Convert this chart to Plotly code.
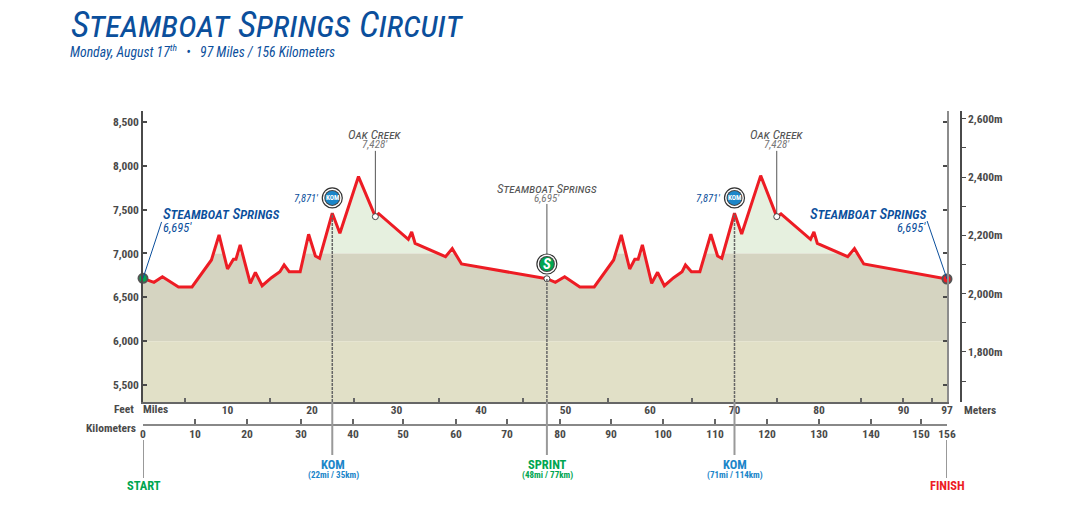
import plotly.graph_objects as go

W, H = 1079, 508
FONT = "Roboto Condensed, Roboto, sans-serif"
BLUE = "#0b4f9c"
KOM_BLUE = "#1b86c9"
GREEN = "#00a651"
RED = "#ed1c24"
DARK = "#4a4a4a"

# elevation profile, x in miles on the drawn scale (the last stretch is squeezed in the original)
profile_miles = [0, 1.3, 2.3, 4.2, 5.8, 8.1, 9.0, 10.0, 10.7, 11.0, 11.5, 12.7, 13.3, 14.1, 15.2, 16.2, 16.7, 17.3,
                 18.6, 19.6, 20.4, 20.9, 22.4, 23.3, 25.5, 27.5, 27.9, 31.4, 31.8, 32.2, 35.8, 36.6, 37.7, 47.8,
                 48.8, 49.9, 51.7, 53.4, 55.7, 56.6, 57.6, 58.2, 58.6, 59.1, 60.2, 60.9, 61.7, 62.8, 63.8, 64.2,
                 64.9, 65.9, 67.2, 68.0, 68.5, 70.0, 70.85, 73.1, 75.0, 75.5, 79.0, 79.4, 79.8, 83.4, 84.2, 85.3,
                 95.15]
profile_feet = [6717, 6671, 6735, 6618, 6618, 6926, 7211, 6823, 6934, 6934, 7097, 6660, 6785, 6632, 6724, 6792, 6869,
                6792, 6792, 7219, 6971, 6945, 7459, 7231, 7877, 7420, 7454, 7162, 7245, 7116, 6963, 7055, 6880, 6712,
                6671, 6735, 6618, 6618, 6926, 7211, 6823, 6934, 6934, 7097, 6660, 6785, 6632, 6724, 6792, 6869,
                6792, 6792, 7219, 6971, 6945, 7459, 7223, 7888, 7420, 7451, 7162, 7245, 7116, 6963, 7055, 6880,
                6709]

feet_ticks = [5500, 6000, 6500, 7000, 7500, 8000, 8500]
meter_ticks = [1700, 1800, 1900, 2000, 2100, 2200, 2300, 2400, 2500, 2600]
meter_labels = ["", "1,800m", "", "2,000m", "", "2,200m", "", "2,400m", "", "2,600m"]

mile_tick_pos = [0, 10, 20, 30, 40, 50, 60, 70, 80, 90, 95.15]
mile_labels = ["", "10", "20", "30", "40", "50", "60", "70", "80", "90", "97"]
mile_minor = [5, 15, 25, 35, 45, 55, 65, 75, 85, 89.95, 93.4]

km_tick_pos = [0, 10, 20, 30.4, 40.4, 50, 60.2, 70, 80.2, 90, 100, 110, 120, 130, 140, 149.6, 154.6]
km_labels = ["0", "10", "20", "30", "40", "50", "60", "70", "80", "90", "100", "110", "120", "130", "140", "150", "156"]

FEET_RANGE = [5306, 8625]
METER_RANGE = [1628, 2627]
MILE_RANGE = [0, 95.15]
KM_RANGE = [0, 154.6]
TOP = FEET_RANGE[1]

KOM1, SPRINT, KOM2, OAK1, OAK2 = 22.4, 47.8, 70.0, 27.5, 75.0


def px(x):
    return x / W


def py(y):
    return 1 - y / H


fig = go.Figure()

# white mask above the profile, so the colour bands only show below it
fig.add_trace(go.Scatter(x=profile_miles, y=[TOP] * len(profile_miles), mode="lines", line=dict(width=0)))
fig.add_trace(go.Scatter(x=profile_miles, y=profile_feet, mode="lines", line=dict(width=0),
                         fill="tonexty", fillcolor="white"))
fig.add_trace(go.Scatter(x=profile_miles, y=profile_feet, mode="lines",
                         line=dict(color=RED, width=3, shape="linear")))

# start / finish / climb markers
fig.add_trace(go.Scatter(x=[profile_miles[0]], y=[profile_feet[0]], mode="markers", cliponaxis=False,
                         marker=dict(size=9, color=GREEN, line=dict(color="#555555", width=2))))
fig.add_trace(go.Scatter(x=[profile_miles[-1]], y=[profile_feet[-1]], mode="markers", cliponaxis=False,
                         marker=dict(size=9, color=RED, line=dict(color="#555555", width=2))))
fig.add_trace(go.Scatter(x=[OAK1, OAK2, SPRINT], y=[7420, 7420, 6712], mode="markers",
                         marker=dict(size=6, color="white", line=dict(color="#444444", width=1))))

# badges
for bx, by, col in [(KOM1, 7634, KOM_BLUE), (KOM2, 7634, KOM_BLUE), (SPRINT, 6880, GREEN)]:
    fig.add_trace(go.Scatter(x=[bx], y=[by], mode="markers",
                             marker=dict(size=20, color="white", line=dict(color="#333333", width=1.2))))
    fig.add_trace(go.Scatter(x=[bx], y=[by], mode="markers", marker=dict(size=16, color="#444444")))
    fig.add_trace(go.Scatter(x=[bx], y=[by], mode="markers", marker=dict(size=14, color=col)))

shapes = [
    dict(type="rect", xref="x domain", x0=0, x1=1, yref="y", y0=7000, y1=TOP, fillcolor="#e6f0df", line_width=0, layer="below"),
    dict(type="rect", xref="x domain", x0=0, x1=1, yref="y", y0=6000, y1=7000, fillcolor="#d5d4c1", line_width=0, layer="below"),
    dict(type="rect", xref="x domain", x0=0, x1=1, yref="y", y0=FEET_RANGE[0], y1=6000, fillcolor="#e1e0c7", line_width=0, layer="below"),
]

# dashed drops to the axis and solid stems to the labels below
for mx, feet in [(KOM1, 7459), (SPRINT, 6712), (KOM2, 7459)]:
    shapes.append(dict(type="line", xref="x", x0=mx, x1=mx, yref="y", y0=FEET_RANGE[0], y1=feet,
                       line=dict(color="#666666", width=1.5, dash="3px,1px")))
    shapes.append(dict(type="line", xref="x", x0=mx, x1=mx, yref="paper", y0=py(402), y1=py(455),
                       line=dict(color="#999999", width=2)))
for mx in MILE_RANGE:
    shapes.append(dict(type="line", xref="x", x0=mx, x1=mx, yref="paper", y0=py(440), y1=py(478),
                       line=dict(color="#999999", width=2)))

# leader lines
for mx, top in [(OAK1, 8170), (OAK2, 8170), (SPRINT, 7565)]:
    bottom = 6990 if mx == SPRINT else 7450
    shapes.append(dict(type="line", x0=mx, x1=mx, y0=bottom, y1=top, line=dict(color="#555555", width=1)))
shapes.append(dict(type="line", x0=0, x1=2.2, y0=6717, y1=7360, line=dict(color=BLUE, width=1)))
shapes.append(dict(type="line", x0=92.8, x1=95.15, y0=7370, y1=6709, line=dict(color=BLUE, width=1)))

annotations = []


def note(text, x, y, size, color, anchor="center", italic=False, small_caps=False, weight="normal"):
    annotations.append(dict(
        text=text, xref="paper", yref="paper", x=px(x), y=py(y), xanchor=anchor, yanchor="middle",
        showarrow=False, borderpad=0, borderwidth=0,
        font=dict(family=FONT, size=size, color=color, style="italic" if italic else "normal",
                  variant="small-caps" if small_caps else "normal", weight=weight),
    ))


note("Steamboat Springs Circuit", 71, 24, 36.5, BLUE, "left", italic=True, small_caps=True)
note("Monday, August 17<sup>th</sup>   •   97 Miles / 156 Kilometers", 70, 51, 13.7, BLUE, "left", italic=True)

note("Steamboat Springs", 163, 214, 15, BLUE, "left", italic=True, small_caps=True, weight=500)
note("6,695'", 163, 227, 12.5, BLUE, "left", italic=True)
note("Steamboat Springs", 927, 214, 15, BLUE, "right", italic=True, small_caps=True, weight=500)
note("6,695'", 926, 227, 12.5, BLUE, "right", italic=True)

for cx in (375, 777):
    note("Oak Creek", cx, 134, 13, "#555555", italic=True, small_caps=True)
    note("7,428'", cx, 145, 11, "#777777", italic=True)
note("Steamboat Springs", 547, 188, 13, "#555555", italic=True, small_caps=True)
note("6,695'", 547, 199, 11, "#777777", italic=True)

note("7,871'", 319, 198, 10.5, BLUE, "right", italic=True)
note("7,871'", 721, 198, 10.5, BLUE, "right", italic=True)
note("KOM", 332.5, 198, 7, "white", weight="bold")
note("KOM", 734.5, 198, 7, "white", weight="bold")
note("S", 547, 264, 15, "white", italic=True, weight="bold")

note("Feet", 134, 409, 11.5, DARK, "right", weight="bold")
note("Miles", 143, 409, 11.5, DARK, "left", weight="bold")
note("Meters", 964, 410, 11.5, DARK, "left", weight="bold")
note("Kilometers", 136, 428, 11.5, DARK, "right", weight="bold")

note("START", 144, 485, 12.5, GREEN, weight="bold")
note("FINISH", 947, 485, 12.5, RED, weight="bold")
note("KOM", 333, 464, 12.5, KOM_BLUE, weight="bold")
note("(22mi / 35km)", 333, 475, 9, KOM_BLUE, weight="bold")
note("SPRINT", 547, 464, 12.5, GREEN, weight="bold")
note("(48mi / 77km)", 547, 475, 9, GREEN, weight="bold")
note("KOM", 735, 464, 12.5, KOM_BLUE, weight="bold")
note("(71mi / 114km)", 735, 475, 9, KOM_BLUE, weight="bold")

tick_font = dict(family=FONT, size=11.5, color=DARK, weight="bold")
fig.update_layout(
    width=W, height=H,
    margin=dict(l=0, r=0, t=0, b=0, autoexpand=False),
    paper_bgcolor="white",
    plot_bgcolor="white",
    showlegend=False,
    hovermode=False,
    shapes=shapes,
    annotations=annotations,
    xaxis=dict(domain=[px(143), px(947)], range=MILE_RANGE, anchor="y", showgrid=False, zeroline=False,
               tickmode="array", tickvals=mile_tick_pos, ticktext=mile_labels, ticks="", tickfont=tick_font,
               ticklabelstandoff=-4, showline=True, linecolor="#666666", linewidth=2,
               minor=dict(ticks="inside", tickvals=mile_minor, ticklen=4, tickwidth=1.5, tickcolor="#666666", showgrid=False)),
    xaxis2=dict(domain=[px(143), px(947)], range=KM_RANGE, overlaying="x", anchor="free", position=py(425), side="bottom",
                showgrid=False, zeroline=False, tickmode="array", tickvals=km_tick_pos, ticktext=km_labels,
                ticks="inside", ticklen=5, tickwidth=1.5, tickcolor="#666666", tickfont=tick_font, ticklabelstandoff=-2,
                showline=True, linecolor="#888888", linewidth=2),
    yaxis=dict(domain=[py(402), py(111)], range=FEET_RANGE, anchor="x", showgrid=False, zeroline=False,
               tickmode="array", tickvals=feet_ticks, tickformat=",", ticksuffix="'", ticks="inside", ticklen=4,
               tickwidth=1.5, tickcolor=DARK, tickfont=tick_font, showline=True, linecolor=DARK, linewidth=1.5),
    yaxis2=dict(domain=[py(402), py(111)], range=FEET_RANGE, overlaying="y", anchor="x", side="right", showgrid=False,
                zeroline=False, tickmode="array", tickvals=feet_ticks, ticktext=[""] * len(feet_ticks), ticks="inside",
                ticklen=4, tickwidth=1.5, tickcolor=DARK, showline=True, linecolor="#8c8c8c", linewidth=2),
    yaxis3=dict(domain=[py(402), py(111)], range=METER_RANGE, overlaying="y", anchor="free", position=px(961),
                side="right", showgrid=False, zeroline=False, tickmode="array", tickvals=meter_ticks,
                ticktext=meter_labels, ticks="outside", ticklen=4, tickwidth=1, tickcolor=DARK, tickfont=tick_font,
                showline=True, linecolor=DARK, linewidth=1.5),
)
# axes without traces stay hidden, so hang an empty trace on each overlay
fig.add_trace(go.Scatter(x=[None], y=[None], xaxis="x2", yaxis="y"))
fig.add_trace(go.Scatter(x=[None], y=[None], xaxis="x", yaxis="y2"))
fig.add_trace(go.Scatter(x=[None], y=[None], xaxis="x", yaxis="y3"))

fig.write_html("out.html", post_script="document.body.style.margin='0';", config=dict(displayModeBar=False))
